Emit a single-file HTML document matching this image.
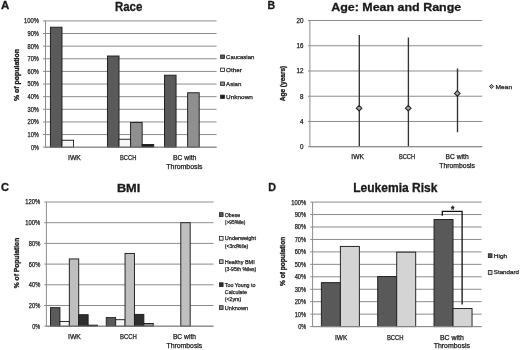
<!DOCTYPE html>
<html><head><meta charset="utf-8"><style>
html,body{margin:0;padding:0;background:#fff;}
body{width:520px;height:350px;overflow:hidden;}
svg{display:block;font-family:"Liberation Sans",sans-serif;will-change:transform;}
text{stroke:#1a1a1a;stroke-width:0.25px;}
text[font-weight=bold]{stroke-width:0.3px;}
</style></head><body>
<svg width="520" height="350" viewBox="0 0 520 350" fill="#1a1a1a">
<rect width="520" height="350" fill="#fff"/>
<text x="1.1" y="9.1" font-size="11" font-weight="bold" textLength="8.3" lengthAdjust="spacingAndGlyphs">A</text>
<text x="267.4" y="9.1" font-size="11" font-weight="bold" textLength="7.6" lengthAdjust="spacingAndGlyphs">B</text>
<text x="0.9" y="190.8" font-size="11" font-weight="bold" textLength="8" lengthAdjust="spacingAndGlyphs">C</text>
<text x="268.2" y="190.8" font-size="11" font-weight="bold" textLength="7.8" lengthAdjust="spacingAndGlyphs">D</text>
<text x="128.6" y="11" font-size="12" text-anchor="middle" font-weight="bold" textLength="27.3" lengthAdjust="spacingAndGlyphs">Race</text>
<line x1="43" y1="147.2" x2="216.6" y2="147.2" stroke="#8c8c8c" stroke-width="1"/>
<text x="38.9" y="149.6" font-size="6.6" text-anchor="end" textLength="7.9" lengthAdjust="spacingAndGlyphs">0%</text>
<line x1="43" y1="134.57" x2="216.6" y2="134.57" stroke="#8c8c8c" stroke-width="1"/>
<text x="38.9" y="136.97" font-size="6.6" text-anchor="end" textLength="11.4" lengthAdjust="spacingAndGlyphs">10%</text>
<line x1="43" y1="121.94" x2="216.6" y2="121.94" stroke="#8c8c8c" stroke-width="1"/>
<text x="38.9" y="124.34" font-size="6.6" text-anchor="end" textLength="11.4" lengthAdjust="spacingAndGlyphs">20%</text>
<line x1="43" y1="109.31" x2="216.6" y2="109.31" stroke="#8c8c8c" stroke-width="1"/>
<text x="38.9" y="111.71" font-size="6.6" text-anchor="end" textLength="11.4" lengthAdjust="spacingAndGlyphs">30%</text>
<line x1="43" y1="96.68" x2="216.6" y2="96.68" stroke="#8c8c8c" stroke-width="1"/>
<text x="38.9" y="99.08" font-size="6.6" text-anchor="end" textLength="11.4" lengthAdjust="spacingAndGlyphs">40%</text>
<line x1="43" y1="84.05" x2="216.6" y2="84.05" stroke="#8c8c8c" stroke-width="1"/>
<text x="38.9" y="86.45" font-size="6.6" text-anchor="end" textLength="11.4" lengthAdjust="spacingAndGlyphs">50%</text>
<line x1="43" y1="71.42" x2="216.6" y2="71.42" stroke="#8c8c8c" stroke-width="1"/>
<text x="38.9" y="73.82" font-size="6.6" text-anchor="end" textLength="11.4" lengthAdjust="spacingAndGlyphs">60%</text>
<line x1="43" y1="58.79" x2="216.6" y2="58.79" stroke="#8c8c8c" stroke-width="1"/>
<text x="38.9" y="61.19" font-size="6.6" text-anchor="end" textLength="11.4" lengthAdjust="spacingAndGlyphs">70%</text>
<line x1="43" y1="46.16" x2="216.6" y2="46.16" stroke="#8c8c8c" stroke-width="1"/>
<text x="38.9" y="48.56" font-size="6.6" text-anchor="end" textLength="11.4" lengthAdjust="spacingAndGlyphs">80%</text>
<line x1="43" y1="33.53" x2="216.6" y2="33.53" stroke="#8c8c8c" stroke-width="1"/>
<text x="38.9" y="35.93" font-size="6.6" text-anchor="end" textLength="11.4" lengthAdjust="spacingAndGlyphs">90%</text>
<line x1="43" y1="20.9" x2="216.6" y2="20.9" stroke="#8c8c8c" stroke-width="1"/>
<text x="38.9" y="23.3" font-size="6.6" text-anchor="end" textLength="14.9" lengthAdjust="spacingAndGlyphs">100%</text>
<line x1="45.5" y1="20.9" x2="45.5" y2="147.2" stroke="#8c8c8c" stroke-width="1"/>
<rect x="50.42" y="27.22" width="11.57" height="119.98" fill="#5a5a5a" stroke="#1e1e1e" stroke-width="0.95"/>
<rect x="61.99" y="140.25" width="11.57" height="6.95" fill="#f6f6f6" stroke="#1e1e1e" stroke-width="0.95"/>
<rect x="107.45" y="56.01" width="11.57" height="91.19" fill="#5a5a5a" stroke="#1e1e1e" stroke-width="0.95"/>
<rect x="119.02" y="139.24" width="11.57" height="7.96" fill="#f6f6f6" stroke="#1e1e1e" stroke-width="0.95"/>
<rect x="130.59" y="122.45" width="11.57" height="24.75" fill="#8f8f8f" stroke="#1e1e1e" stroke-width="0.95"/>
<rect x="142.16" y="144.55" width="11.57" height="2.65" fill="#1c1c1c" stroke="#1e1e1e" stroke-width="0.95"/>
<rect x="164.49" y="75.21" width="11.57" height="71.99" fill="#5a5a5a" stroke="#1e1e1e" stroke-width="0.95"/>
<rect x="187.63" y="92.76" width="11.57" height="54.44" fill="#8f8f8f" stroke="#1e1e1e" stroke-width="0.95"/>
<line x1="45.5" y1="147.2" x2="216.6" y2="147.2" stroke="#8c8c8c" stroke-width="1"/>
<text transform="translate(19.1 75) rotate(-90)" x="0" y="0" font-size="6.3" text-anchor="middle" font-weight="bold" textLength="52" lengthAdjust="spacingAndGlyphs">% of population</text>
<text x="74.45" y="159.8" font-size="6.5" text-anchor="middle" textLength="12.9" lengthAdjust="spacingAndGlyphs">IWK</text>
<text x="128.15" y="159.8" font-size="6.5" text-anchor="middle" textLength="16.3" lengthAdjust="spacingAndGlyphs">BCCH</text>
<text x="184.7" y="160" font-size="6.5" text-anchor="middle" textLength="23.2" lengthAdjust="spacingAndGlyphs">BC with</text>
<text x="184.4" y="168.7" font-size="6.5" text-anchor="middle" textLength="36.2" lengthAdjust="spacingAndGlyphs">Thrombosis</text>
<rect x="220.6" y="55" width="3.9" height="3.4" fill="#5a5a5a" stroke="#1e1e1e" stroke-width="0.8"/>
<text x="226.1" y="58.6" font-size="5.8" textLength="28.2" lengthAdjust="spacingAndGlyphs">Caucasian</text>
<rect x="220.6" y="68.1" width="3.9" height="3.4" fill="#f6f6f6" stroke="#1e1e1e" stroke-width="0.8"/>
<text x="226.1" y="71.7" font-size="5.8" textLength="15.7" lengthAdjust="spacingAndGlyphs">Other</text>
<rect x="220.6" y="82" width="3.9" height="3.4" fill="#8f8f8f" stroke="#1e1e1e" stroke-width="0.8"/>
<text x="226.1" y="85.6" font-size="5.8" textLength="15.3" lengthAdjust="spacingAndGlyphs">Asian</text>
<rect x="220.6" y="95.1" width="3.9" height="3.4" fill="#1c1c1c" stroke="#1e1e1e" stroke-width="0.8"/>
<text x="226.1" y="98.7" font-size="5.8" textLength="26.8" lengthAdjust="spacingAndGlyphs">Unknown</text>
<text x="396.2" y="11" font-size="11.7" text-anchor="middle" font-weight="bold" textLength="130.1" lengthAdjust="spacingAndGlyphs">Age: Mean and Range</text>
<line x1="308" y1="146.7" x2="482.2" y2="146.7" stroke="#8c8c8c" stroke-width="1"/>
<text x="303.6" y="149.1" font-size="6.6" text-anchor="end" textLength="3.5" lengthAdjust="spacingAndGlyphs">0</text>
<line x1="308" y1="121.46" x2="482.2" y2="121.46" stroke="#8c8c8c" stroke-width="1"/>
<text x="303.6" y="123.86" font-size="6.6" text-anchor="end" textLength="3.5" lengthAdjust="spacingAndGlyphs">4</text>
<line x1="308" y1="96.22" x2="482.2" y2="96.22" stroke="#8c8c8c" stroke-width="1"/>
<text x="303.6" y="98.62" font-size="6.6" text-anchor="end" textLength="3.5" lengthAdjust="spacingAndGlyphs">8</text>
<line x1="308" y1="70.98" x2="482.2" y2="70.98" stroke="#8c8c8c" stroke-width="1"/>
<text x="303.6" y="73.38" font-size="6.6" text-anchor="end" textLength="7" lengthAdjust="spacingAndGlyphs">12</text>
<line x1="308" y1="45.74" x2="482.2" y2="45.74" stroke="#8c8c8c" stroke-width="1"/>
<text x="303.6" y="48.14" font-size="6.6" text-anchor="end" textLength="7" lengthAdjust="spacingAndGlyphs">16</text>
<line x1="308" y1="20.5" x2="482.2" y2="20.5" stroke="#8c8c8c" stroke-width="1"/>
<text x="303.6" y="22.9" font-size="6.6" text-anchor="end" textLength="7" lengthAdjust="spacingAndGlyphs">20</text>
<line x1="309.9" y1="20.5" x2="309.9" y2="146.7" stroke="#8c8c8c" stroke-width="1"/>
<line x1="359.3" y1="35.01" x2="359.3" y2="146.7" stroke="#333333" stroke-width="1.35"/>
<line x1="408.4" y1="37.54" x2="408.4" y2="146.7" stroke="#333333" stroke-width="1.35"/>
<line x1="457.5" y1="68.46" x2="457.5" y2="132.19" stroke="#333333" stroke-width="1.35"/>
<path d="M359.1 105.41L361.9 108.21L359.1 111.01L356.3 108.21Z" fill="#a6a6a6" stroke="#2a2a2a" stroke-width="1.1"/>
<path d="M408.2 105.41L411 108.21L408.2 111.01L405.4 108.21Z" fill="#a6a6a6" stroke="#2a2a2a" stroke-width="1.1"/>
<path d="M457.3 90.58L460.1 93.38L457.3 96.18L454.5 93.38Z" fill="#a6a6a6" stroke="#2a2a2a" stroke-width="1.1"/>
<line x1="309.9" y1="146.7" x2="482.2" y2="146.7" stroke="#8c8c8c" stroke-width="1"/>
<path d="M491.5 84.4L493.6 86.5L491.5 88.6L489.4 86.5Z" fill="#a6a6a6" stroke="#2a2a2a" stroke-width="1"/>
<text x="495.5" y="88.7" font-size="6.2" textLength="16.6" lengthAdjust="spacingAndGlyphs">Mean</text>
<text transform="translate(284.5 83.5) rotate(-90)" x="0" y="0" font-size="6.3" text-anchor="middle" font-weight="bold" textLength="35.6" lengthAdjust="spacingAndGlyphs">Age (years)</text>
<text x="357.6" y="158.9" font-size="6.5" text-anchor="middle" textLength="12.6" lengthAdjust="spacingAndGlyphs">IWK</text>
<text x="407" y="158.9" font-size="6.5" text-anchor="middle" textLength="16.2" lengthAdjust="spacingAndGlyphs">BCCH</text>
<text x="457.15" y="159" font-size="6.5" text-anchor="middle" textLength="23.1" lengthAdjust="spacingAndGlyphs">BC with</text>
<text x="457.15" y="167.7" font-size="6.5" text-anchor="middle" textLength="35.7" lengthAdjust="spacingAndGlyphs">Thrombosis</text>
<text x="128.6" y="192" font-size="11.7" text-anchor="middle" font-weight="bold" textLength="23.4" lengthAdjust="spacingAndGlyphs">BMI</text>
<line x1="44.2" y1="326.2" x2="213.6" y2="326.2" stroke="#8c8c8c" stroke-width="1"/>
<text x="40.2" y="328.6" font-size="6.6" text-anchor="end" textLength="7.9" lengthAdjust="spacingAndGlyphs">0%</text>
<line x1="44.2" y1="305.5" x2="213.6" y2="305.5" stroke="#8c8c8c" stroke-width="1"/>
<text x="40.2" y="307.9" font-size="6.6" text-anchor="end" textLength="11.4" lengthAdjust="spacingAndGlyphs">20%</text>
<line x1="44.2" y1="284.8" x2="213.6" y2="284.8" stroke="#8c8c8c" stroke-width="1"/>
<text x="40.2" y="287.2" font-size="6.6" text-anchor="end" textLength="11.4" lengthAdjust="spacingAndGlyphs">40%</text>
<line x1="44.2" y1="264.1" x2="213.6" y2="264.1" stroke="#8c8c8c" stroke-width="1"/>
<text x="40.2" y="266.5" font-size="6.6" text-anchor="end" textLength="11.4" lengthAdjust="spacingAndGlyphs">60%</text>
<line x1="44.2" y1="243.4" x2="213.6" y2="243.4" stroke="#8c8c8c" stroke-width="1"/>
<text x="40.2" y="245.8" font-size="6.6" text-anchor="end" textLength="11.4" lengthAdjust="spacingAndGlyphs">80%</text>
<line x1="44.2" y1="222.7" x2="213.6" y2="222.7" stroke="#8c8c8c" stroke-width="1"/>
<text x="40.2" y="225.1" font-size="6.6" text-anchor="end" textLength="14.9" lengthAdjust="spacingAndGlyphs">100%</text>
<line x1="44.2" y1="202" x2="213.6" y2="202" stroke="#8c8c8c" stroke-width="1"/>
<text x="40.2" y="204.4" font-size="6.6" text-anchor="end" textLength="14.9" lengthAdjust="spacingAndGlyphs">120%</text>
<line x1="46.4" y1="202" x2="46.4" y2="326.2" stroke="#8c8c8c" stroke-width="1"/>
<rect x="50.52" y="307.67" width="9.4" height="18.53" fill="#5a5a5a" stroke="#1e1e1e" stroke-width="0.95"/>
<rect x="59.92" y="321.44" width="9.4" height="4.76" fill="#f6f6f6" stroke="#1e1e1e" stroke-width="0.95"/>
<rect x="69.32" y="258.93" width="9.4" height="67.27" fill="#bfbfbf" stroke="#1e1e1e" stroke-width="0.95"/>
<rect x="78.72" y="314.71" width="9.4" height="11.49" fill="#2e2e2e" stroke="#1e1e1e" stroke-width="0.95"/>
<rect x="88.12" y="325.16" width="9.4" height="1.03" fill="#8c8c8c" stroke="#1e1e1e" stroke-width="0.95"/>
<rect x="106.25" y="317.61" width="9.4" height="8.59" fill="#5a5a5a" stroke="#1e1e1e" stroke-width="0.95"/>
<rect x="115.65" y="319.68" width="9.4" height="6.52" fill="#f6f6f6" stroke="#1e1e1e" stroke-width="0.95"/>
<rect x="125.05" y="253.44" width="9.4" height="72.76" fill="#bfbfbf" stroke="#1e1e1e" stroke-width="0.95"/>
<rect x="134.45" y="314.4" width="9.4" height="11.8" fill="#2e2e2e" stroke="#1e1e1e" stroke-width="0.95"/>
<rect x="143.85" y="323.51" width="9.4" height="2.69" fill="#8c8c8c" stroke="#1e1e1e" stroke-width="0.95"/>
<rect x="180.79" y="222.7" width="9.4" height="103.5" fill="#bfbfbf" stroke="#1e1e1e" stroke-width="0.95"/>
<line x1="46.4" y1="326.2" x2="213.6" y2="326.2" stroke="#8c8c8c" stroke-width="1"/>
<text transform="translate(19.2 263) rotate(-90)" x="0" y="0" font-size="6.3" text-anchor="middle" font-weight="bold" textLength="50.4" lengthAdjust="spacingAndGlyphs">% of Population</text>
<text x="74.45" y="339.3" font-size="6.5" text-anchor="middle" textLength="12.9" lengthAdjust="spacingAndGlyphs">IWK</text>
<text x="128.45" y="339.4" font-size="6.5" text-anchor="middle" textLength="16.9" lengthAdjust="spacingAndGlyphs">BCCH</text>
<text x="184.45" y="339.4" font-size="6.5" text-anchor="middle" textLength="23.1" lengthAdjust="spacingAndGlyphs">BC with</text>
<text x="184.4" y="347.8" font-size="6.5" text-anchor="middle" textLength="35.8" lengthAdjust="spacingAndGlyphs">Thrombosis</text>
<rect x="219.4" y="212.7" width="3.7" height="3.8" fill="#5a5a5a" stroke="#1e1e1e" stroke-width="0.8"/>
<text x="224.8" y="216.6" font-size="5.65" textLength="15.4" lengthAdjust="spacingAndGlyphs">Obese</text>
<text x="224.8" y="223.85" font-size="5.65" textLength="20.6" lengthAdjust="spacingAndGlyphs">(&gt;95%ile)</text>
<rect x="219.4" y="236.4" width="3.7" height="3.8" fill="#f6f6f6" stroke="#1e1e1e" stroke-width="0.8"/>
<text x="224.8" y="240.3" font-size="5.65" textLength="31.2" lengthAdjust="spacingAndGlyphs">Underweight</text>
<text x="224.8" y="247.55" font-size="5.65" textLength="23.4" lengthAdjust="spacingAndGlyphs">(&lt;3rd%ile)</text>
<rect x="219.4" y="259.8" width="3.7" height="3.8" fill="#bfbfbf" stroke="#1e1e1e" stroke-width="0.8"/>
<text x="224.8" y="263.7" font-size="5.65" textLength="29.9" lengthAdjust="spacingAndGlyphs">Healthy BMI</text>
<text x="224.8" y="270.95" font-size="5.65" textLength="31.5" lengthAdjust="spacingAndGlyphs">(3-95th %iles)</text>
<rect x="219.4" y="282.8" width="3.7" height="3.8" fill="#2e2e2e" stroke="#1e1e1e" stroke-width="0.8"/>
<text x="224.8" y="286.7" font-size="5.65" textLength="30.6" lengthAdjust="spacingAndGlyphs">Too Young to</text>
<text x="224.8" y="293.95" font-size="5.65" textLength="22.2" lengthAdjust="spacingAndGlyphs">Calculate</text>
<text x="224.8" y="301.2" font-size="5.65" textLength="16.4" lengthAdjust="spacingAndGlyphs">(&lt;2yrs)</text>
<rect x="219.4" y="305.7" width="3.7" height="3.8" fill="#8c8c8c" stroke="#1e1e1e" stroke-width="0.8"/>
<text x="224.8" y="309.6" font-size="5.65" textLength="23.2" lengthAdjust="spacingAndGlyphs">Unknown</text>
<text x="395.3" y="192.4" font-size="12.1" text-anchor="middle" font-weight="bold" textLength="84.1" lengthAdjust="spacingAndGlyphs">Leukemia Risk</text>
<line x1="310.2" y1="326.6" x2="481.6" y2="326.6" stroke="#8c8c8c" stroke-width="1"/>
<text x="306.1" y="329" font-size="6.6" text-anchor="end" textLength="7.9" lengthAdjust="spacingAndGlyphs">0%</text>
<line x1="310.2" y1="314.15" x2="481.6" y2="314.15" stroke="#8c8c8c" stroke-width="1"/>
<text x="306.1" y="316.55" font-size="6.6" text-anchor="end" textLength="11.4" lengthAdjust="spacingAndGlyphs">10%</text>
<line x1="310.2" y1="301.7" x2="481.6" y2="301.7" stroke="#8c8c8c" stroke-width="1"/>
<text x="306.1" y="304.1" font-size="6.6" text-anchor="end" textLength="11.4" lengthAdjust="spacingAndGlyphs">20%</text>
<line x1="310.2" y1="289.25" x2="481.6" y2="289.25" stroke="#8c8c8c" stroke-width="1"/>
<text x="306.1" y="291.65" font-size="6.6" text-anchor="end" textLength="11.4" lengthAdjust="spacingAndGlyphs">30%</text>
<line x1="310.2" y1="276.8" x2="481.6" y2="276.8" stroke="#8c8c8c" stroke-width="1"/>
<text x="306.1" y="279.2" font-size="6.6" text-anchor="end" textLength="11.4" lengthAdjust="spacingAndGlyphs">40%</text>
<line x1="310.2" y1="264.35" x2="481.6" y2="264.35" stroke="#8c8c8c" stroke-width="1"/>
<text x="306.1" y="266.75" font-size="6.6" text-anchor="end" textLength="11.4" lengthAdjust="spacingAndGlyphs">50%</text>
<line x1="310.2" y1="251.9" x2="481.6" y2="251.9" stroke="#8c8c8c" stroke-width="1"/>
<text x="306.1" y="254.3" font-size="6.6" text-anchor="end" textLength="11.4" lengthAdjust="spacingAndGlyphs">60%</text>
<line x1="310.2" y1="239.45" x2="481.6" y2="239.45" stroke="#8c8c8c" stroke-width="1"/>
<text x="306.1" y="241.85" font-size="6.6" text-anchor="end" textLength="11.4" lengthAdjust="spacingAndGlyphs">70%</text>
<line x1="310.2" y1="227" x2="481.6" y2="227" stroke="#8c8c8c" stroke-width="1"/>
<text x="306.1" y="229.4" font-size="6.6" text-anchor="end" textLength="11.4" lengthAdjust="spacingAndGlyphs">80%</text>
<line x1="310.2" y1="214.55" x2="481.6" y2="214.55" stroke="#8c8c8c" stroke-width="1"/>
<text x="306.1" y="216.95" font-size="6.6" text-anchor="end" textLength="11.4" lengthAdjust="spacingAndGlyphs">90%</text>
<line x1="310.2" y1="202.1" x2="481.6" y2="202.1" stroke="#8c8c8c" stroke-width="1"/>
<text x="306.1" y="204.5" font-size="6.6" text-anchor="end" textLength="14.9" lengthAdjust="spacingAndGlyphs">100%</text>
<line x1="312.6" y1="202.1" x2="312.6" y2="326.6" stroke="#8c8c8c" stroke-width="1"/>
<rect x="321.37" y="282.65" width="19" height="43.95" fill="#595959" stroke="#1e1e1e" stroke-width="0.95"/>
<rect x="340.37" y="246.42" width="19" height="80.18" fill="#d4d4d4" stroke="#1e1e1e" stroke-width="0.95"/>
<rect x="377.7" y="276.55" width="19" height="50.05" fill="#595959" stroke="#1e1e1e" stroke-width="0.95"/>
<rect x="396.7" y="252.15" width="19" height="74.45" fill="#d4d4d4" stroke="#1e1e1e" stroke-width="0.95"/>
<rect x="434.04" y="219.53" width="19" height="107.07" fill="#595959" stroke="#1e1e1e" stroke-width="0.95"/>
<rect x="453.04" y="308.55" width="19" height="18.05" fill="#d4d4d4" stroke="#1e1e1e" stroke-width="0.95"/>
<line x1="312.6" y1="326.6" x2="481.6" y2="326.6" stroke="#8c8c8c" stroke-width="1"/>
<path d="M442.3 215.8V211.3H462.1V304.6" fill="none" stroke="#111" stroke-width="1.3"/>
<text x="451" y="212.1" font-size="8.5" font-weight="bold">*</text>
<rect x="488.3" y="253.8" width="3.7" height="3.8" fill="#595959" stroke="#1e1e1e" stroke-width="0.8"/>
<text x="493.8" y="257.6" font-size="5.85" textLength="13.3" lengthAdjust="spacingAndGlyphs">High</text>
<rect x="488.3" y="270.6" width="3.7" height="3.8" fill="#d4d4d4" stroke="#1e1e1e" stroke-width="0.8"/>
<text x="493.8" y="274.4" font-size="5.85" textLength="25.1" lengthAdjust="spacingAndGlyphs">Standard</text>
<text transform="translate(284.5 261.4) rotate(-90)" x="0" y="0" font-size="6.3" text-anchor="middle" font-weight="bold" textLength="49.2" lengthAdjust="spacingAndGlyphs">% of population</text>
<text x="341.15" y="339.6" font-size="6.5" text-anchor="middle" textLength="12.3" lengthAdjust="spacingAndGlyphs">IWK</text>
<text x="395.25" y="339.8" font-size="6.5" text-anchor="middle" textLength="16.7" lengthAdjust="spacingAndGlyphs">BCCH</text>
<text x="451.9" y="339.8" font-size="6.5" text-anchor="middle" textLength="23.8" lengthAdjust="spacingAndGlyphs">BC with</text>
<text x="451.85" y="348.3" font-size="6.5" text-anchor="middle" textLength="36.3" lengthAdjust="spacingAndGlyphs">Thrombosis</text>
</svg>
</body></html>
